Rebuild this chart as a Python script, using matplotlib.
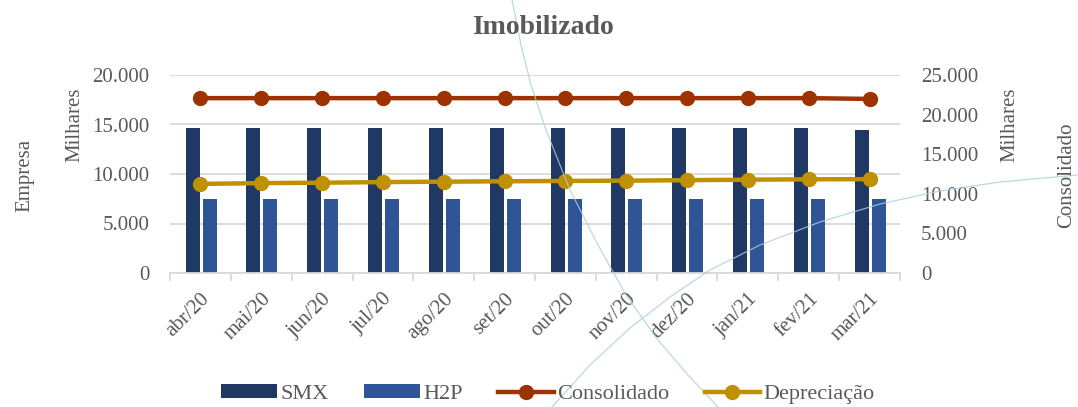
import matplotlib
matplotlib.use("Agg")
import matplotlib.pyplot as plt
import numpy as np
from matplotlib.ticker import FuncFormatter, FixedLocator
from matplotlib.lines import Line2D

# ---- data ----
months = ["abr/20", "mai/20", "jun/20", "jul/20", "ago/20", "set/20",
          "out/20", "nov/20", "dez/20", "jan/21", "fev/21", "mar/21"]
smx = [14650, 14650, 14650, 14650, 14650, 14650, 14650, 14650, 14650, 14650, 14650, 14450]
h2p = [7450, 7450, 7450, 7450, 7450, 7450, 7450, 7450, 7450, 7450, 7450, 7450]
consolidado = [22080, 22080, 22080, 22080, 22080, 22080, 22080, 22080, 22080, 22080, 22080, 21980]
depreciacao = [11250, 11350, 11400, 11480, 11530, 11580, 11620, 11660, 11720, 11780, 11830, 11850]

left_ticks = [0, 5000, 10000, 15000, 20000]
right_ticks = [0, 5000, 10000, 15000, 20000, 25000]

# ---- style ----
FONT = ["Liberation Serif", "DejaVu Serif"]
plt.rcParams["font.family"] = FONT
TXT = "#595959"
C_SMX = "#203864"
C_H2P = "#2F5597"
C_CON = "#9C3300"
C_DEP = "#BF9000"

def fmt(v, pos=None):
    return f"{int(round(v)):,}".replace(",", ".")

fig = plt.figure(figsize=(10.78, 4.07), dpi=100)
ax = fig.add_axes([170/1078, 1-273/407, 730/1078, 198/407])
ax2 = ax.twinx()

x = np.arange(len(months))
w = 0.23
ax.bar(x - 0.13, smx, width=w, color=C_SMX, zorder=2, label="SMX")
ax.bar(x + 0.15, h2p, width=w, color=C_H2P, zorder=2, label="H2P")

ax2.plot(x, consolidado, color=C_CON, lw=3.2, marker="o", ms=10, zorder=3, label="Consolidado")
ax2.plot(x, depreciacao, color=C_DEP, lw=3.2, marker="o", ms=10, zorder=3, label="Depreciação")

ax.set_xlim(-0.5, len(months) - 0.5)
ax.set_ylim(0, 20000)
ax2.set_ylim(0, 25000)
ax.set_yticks(left_ticks)
ax2.set_yticks(right_ticks)
ax.yaxis.set_major_formatter(FuncFormatter(fmt))
ax2.yaxis.set_major_formatter(FuncFormatter(fmt))

ax.grid(axis="y", color="#D9D9D9", lw=1.3, zorder=0)
ax.set_axisbelow(True)
for a in (ax, ax2):
    for s in a.spines.values():
        s.set_visible(False)
ax.spines["bottom"].set_visible(True)
ax.spines["bottom"].set_color("#D9D9D9")
ax.spines["bottom"].set_linewidth(1.3)

ax.set_xticks(x)
ax.set_xticklabels(months, rotation=45, ha="right", rotation_mode="anchor",
                   fontsize=15, color=TXT)
ax.tick_params(axis="x", length=0, pad=12)
ax.xaxis.set_minor_locator(FixedLocator(np.arange(-0.5, len(months), 1.0)))
ax.tick_params(axis="x", which="minor", length=6, color="#D9D9D9", width=1.3)
ax.tick_params(axis="y", length=0, labelsize=15, labelcolor=TXT, pad=15)
ax2.tick_params(axis="y", length=0, labelsize=15, labelcolor=TXT, pad=15)

# axis titles
fig.text(25/1078, 1-175/407, "Empresa", rotation=90, ha="center", va="center",
         fontsize=15, color=TXT)
fig.text(75/1078, 1-125/407, "Milhares", rotation=90, ha="center", va="center",
         fontsize=15, color=TXT)
fig.text(1010/1078, 1-125/407, "Milhares", rotation=90, ha="center", va="center",
         fontsize=15, color=TXT)
fig.text(1067/1078, 1-175/407, "Consolidado", rotation=90, ha="center", va="center",
         fontsize=15, color=TXT)

fig.text(543/1078, 1-27/407, "Imobilizado", ha="center", va="center",
         fontsize=20, fontweight="bold", color=TXT)

# legend
h1, l1 = ax.get_legend_handles_labels()
h2, l2 = ax2.get_legend_handles_labels()
leg = fig.legend(h1 + h2, l1 + l2, loc="center", bbox_to_anchor=(548/1078, 1-394/407),
                 ncol=4, frameon=False, fontsize=16, handlelength=2.5, handleheight=0.6,
                 columnspacing=1.6, handletextpad=0.15)
for t in leg.get_texts():
    t.set_color(TXT)

# decorative watermark arcs (background, not data)
arc1 = Line2D([512/1078, 521/1078, 531/1078, 546/1078, 570/1078, 598/1078, 626/1078, 658/1078, 688/1078, 718/1078],
              [1, 1-45/407, 1-85/407, 1-130/407, 1-190/407, 1-245/407, 1-295/407, 1-340/407, 1-375/407, 0],
              transform=fig.transFigure, color="#A9CFE0", lw=0.9, alpha=0.8, zorder=0.5)
arc2 = Line2D([552/1078, 590/1078, 630/1078, 670/1078, 710/1078, 760/1078, 820/1078, 880/1078, 940/1078, 1000/1078, 1078/1078],
              [0, 1-365/407, 1-328/407, 1-297/407, 1-270/407, 1-245/407, 1-222/407, 1-204/407, 1-191/407, 1-182/407, 1-175/407],
              transform=fig.transFigure, color="#A9CFE0", lw=0.9, alpha=0.8, zorder=0.5)
fig.add_artist(arc1)
fig.add_artist(arc2)

fig.savefig("out.png", dpi=100)
